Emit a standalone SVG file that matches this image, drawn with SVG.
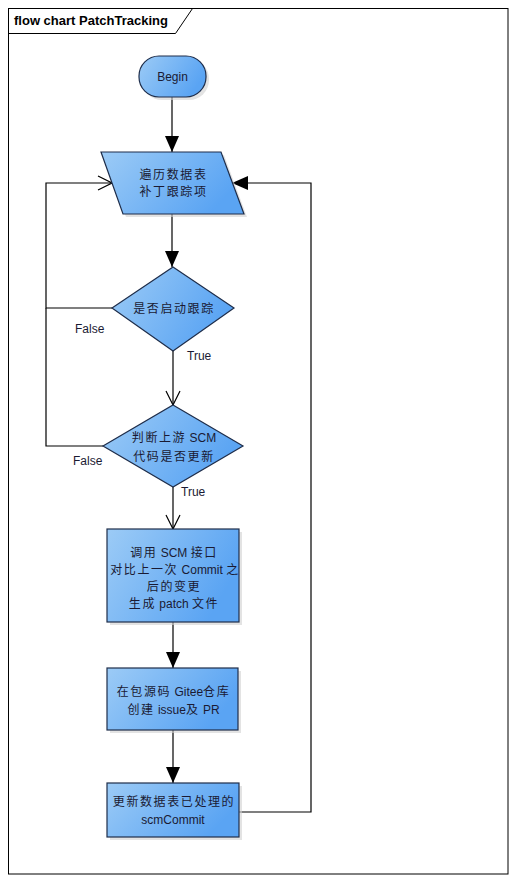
<svg xmlns="http://www.w3.org/2000/svg" width="515" height="882" viewBox="0 0 515 882">
<style>
.t{font-family:"Liberation Sans","Noto Sans CJK SC",sans-serif;font-size:12px;fill:#1a1a33;text-anchor:middle}
.k{letter-spacing:1.6px}
.lbl{font-family:"Liberation Sans",sans-serif;font-size:12px;fill:#1a1a33}
.title{font-family:"Liberation Sans",sans-serif;font-size:13px;font-weight:bold;fill:#000}
.shape{fill:url(#g);stroke:#1e2d4a;stroke-width:1.2}
.shadow{fill:#d0d0d0;opacity:0.6}
.c{fill:none;stroke:#000;stroke-width:1.2}
</style>
<defs>
<linearGradient id="g" x1="0" y1="0" x2="1" y2="0.4">
<stop offset="0" stop-color="#9ccbf6"/>
<stop offset="1" stop-color="#5aa4f3"/>
</linearGradient>
<marker id="fa" markerUnits="userSpaceOnUse" markerWidth="16" markerHeight="14" refX="16" refY="7" orient="auto">
<path d="M0,0 L16,7 L0,14 z" fill="#000"/>
</marker>
<marker id="oa" markerUnits="userSpaceOnUse" markerWidth="16" markerHeight="16" refX="15" refY="8" orient="auto">
<path d="M1,1 L15,8 L1,15" fill="none" stroke="#000" stroke-width="1.2"/>
</marker>
</defs>
<rect width="515" height="882" fill="#fff"/>
<g id="frame">
<rect x="8.5" y="8.5" width="499.5" height="865.5" fill="none" stroke="#000" stroke-width="1"/>
<path d="M8.5,33.5 L175.5,33.5 L192.5,8.5" fill="none" stroke="#000" stroke-width="1"/>
<text class="title" x="14" y="25">flow chart PatchTracking</text>
</g>
<g id="connectors">
<line class="c" x1="172" y1="97" x2="172" y2="152" marker-end="url(#fa)"/>
<line class="c" x1="172" y1="214" x2="172" y2="267" marker-end="url(#fa)"/>
<polyline class="c" points="112,308 46,308 46,183 112,183" marker-end="url(#oa)"/>
<polyline class="c" points="103,446 46,446 46,308"/>
<line class="c" x1="173" y1="351" x2="173" y2="405" marker-end="url(#oa)"/>
<line class="c" x1="173" y1="487" x2="173" y2="529" marker-end="url(#oa)"/>
<line class="c" x1="173" y1="622" x2="173" y2="668" marker-end="url(#fa)"/>
<line class="c" x1="173" y1="730" x2="173" y2="783" marker-end="url(#fa)"/>
<polyline class="c" points="239,812 311,812 311,183 232,183" marker-end="url(#fa)"/>
<text class="lbl" x="75" y="333">False</text>
<text class="lbl" x="187" y="360">True</text>
<text class="lbl" x="73" y="465">False</text>
<text class="lbl" x="181" y="496">True</text>
</g>
<g id="begin">
<rect class="shadow" x="142" y="59" width="67" height="41" rx="20"/>
<rect class="shape" x="139" y="56" width="67" height="41" rx="20"/>
<text class="t" x="172.5" y="81">Begin</text>
</g>
<g id="traverse">
<polygon class="shadow" points="104,155 224,155 247,217 126,217"/>
<polygon class="shape" points="101,152 221,152 244,214 123,214"/>
<text class="t k" x="173.5" y="179">遍历数据表</text>
<text class="t k" x="173.5" y="196">补丁跟踪项</text>
</g>
<g id="decision1">
<polygon class="shape" points="173,267 234,308 173,351 112,308"/>
<text class="t k" x="174" y="313">是否启动跟踪</text>
</g>
<g id="decision2">
<polygon class="shape" points="173,405 243,446 173,487 103,446"/>
<text class="t" x="174" y="442"><tspan class="k">判断上游</tspan> SCM</text>
<text class="t k" x="174" y="461">代码是否更新</text>
</g>
<g id="genpatch">
<rect class="shadow" x="110" y="532" width="132" height="93"/>
<rect class="shape" x="107" y="529" width="132" height="93"/>
<text class="t" x="174" y="557"><tspan class="k">调用</tspan> SCM <tspan class="k">接口</tspan></text>
<text class="t" x="175" y="574"><tspan class="k">对比上一次</tspan> Commit <tspan class="k">之</tspan></text>
<text class="t k" x="174" y="591">后的变更</text>
<text class="t" x="174" y="608"><tspan class="k">生成</tspan> patch <tspan class="k">文件</tspan></text>
</g>
<g id="createpr">
<rect class="shadow" x="110" y="671" width="131" height="62"/>
<rect class="shape" x="107" y="668" width="131" height="62"/>
<text class="t" x="173.5" y="696"><tspan class="k">在包源码</tspan> Gitee<tspan class="k">仓库</tspan></text>
<text class="t" x="173.5" y="714"><tspan class="k">创建</tspan> issue<tspan class="k">及</tspan> PR</text>
</g>
<g id="update">
<rect class="shadow" x="110" y="786" width="132" height="54"/>
<rect class="shape" x="107" y="783" width="132" height="54"/>
<text class="t k" x="174" y="806">更新数据表已处理的</text>
<text class="t" x="173" y="824">scmCommit</text>
</g>
</svg>
